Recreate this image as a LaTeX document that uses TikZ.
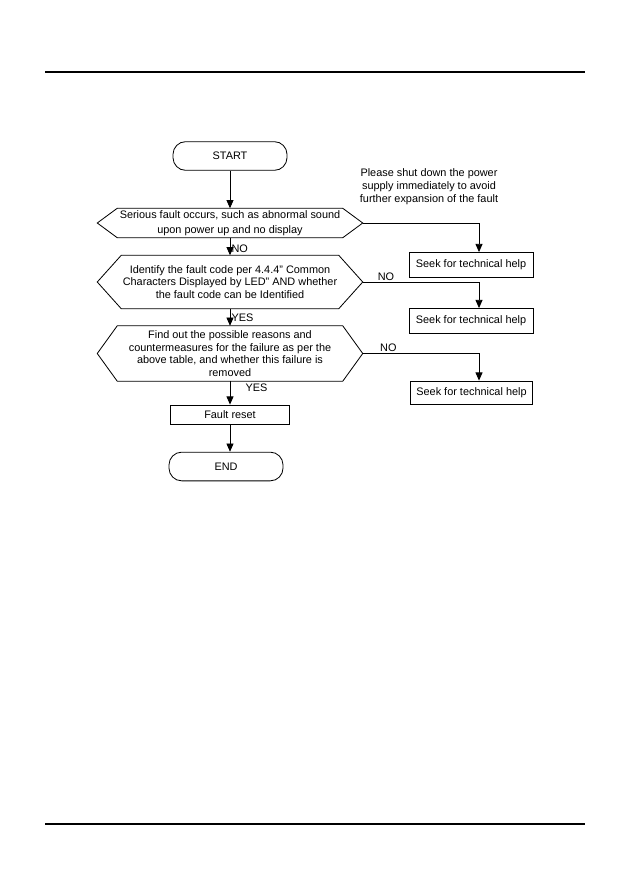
\documentclass[tikz,border=0pt]{standalone}
\usepackage{fontspec}
\setmainfont{Liberation Sans}
\usetikzlibrary{positioning,arrows.meta,calc}

\begin{document}
\begin{tikzpicture}[x=0.03cm, y=-0.03cm,
        font=\fontsize{9.3}{11}\selectfont,
        term/.style={draw, line width=0.7pt, rounded corners=0.38cm, minimum width=3.42cm, minimum height=0.86cm},
        box/.style={draw, line width=0.7pt, minimum height=0.75cm, inner sep=2pt},
        dec/.style={align=center, minimum width=7.95cm, inner sep=0pt, font=\fontsize{9.3}{10.8}\selectfont},
        hex/.style={line width=0.7pt},
        arr/.style={-{Triangle[length=7pt,width=6pt]}, line width=0.7pt},
        lbl/.style={inner sep=1pt}
    ]
        \useasboundingbox (0,0) rectangle (626,893);

        % --- page rules ---
        \draw[line width=0.9pt] (45,72) -- (585,72);
        \draw[line width=0.9pt] (45,824) -- (585,824);

        % main column
        \node[term] (start) at (230,156) {START};
        \node[dec, minimum height=0.87cm] (dec1) at (230,223) {Serious fault occurs, such as abnormal sound\\[2.5pt]upon power up and no display};
        \node[dec, minimum height=1.59cm] (dec2) at (230,282) {Identify the fault code per 4.4.4" Common\\Characters Displayed by LED" AND whether\\the fault code can be Identified};
        \node[dec, minimum height=1.65cm] (dec3) at (230,353.5) {Find out the possible reasons and\\countermeasures for the failure as per the\\above table, and whether this failure is\\removed};
        \node[box, minimum width=3.57cm, minimum height=0.57cm] (reset) at (230,414.5) {Fault reset};
        \node[term] (end) at (226,466.5) {END};

        % hexagon outlines
        \foreach \d/\c in {dec1/20, dec2/24, dec3/20}
            \draw[hex] (\d.west) -- ($(\d.north west)+(\c,0)$) -- ($(\d.north east)-(\c,0)$) -- (\d.east)
                -- ($(\d.south east)-(\c,0)$) -- ($(\d.south west)+(\c,0)$) -- cycle;

        % right column
        \node[align=center] (note) at (429,187) {Please shut down the power\\supply immediately to avoid\\further expansion of the fault};
        \node[box, minimum width=3.72cm] (help1) at (471,265) {Seek for technical help};
        \node[box, minimum width=3.72cm] (help2) at (471,321) {Seek for technical help};
        \node[box, minimum width=3.66cm, minimum height=0.69cm] (help3) at (471.5,392.5) {Seek for technical help};
        \coordinate (drop) at (479,0);

        % connectors
        \draw[arr] (start) -- (dec1);
        \draw[arr] (dec1) -- node[lbl, pos=0.6, right] (no1) {NO} (dec2);
        \draw[arr] (dec2) -- node[lbl, pos=0.55, right] (yes1) {YES} (dec3);
        \draw[arr] (dec3) -- node[lbl, pos=0.3, right=0.42cm] (yes2) {YES} (reset);
        \draw[arr] (reset) -- (reset |- end.north);

        \draw[arr] (dec1.east) -| (drop |- help1.north);
        \draw[arr] (dec2.east) -| node[lbl, pos=0.1, above] (no2) {NO} (drop |- help2.north);
        \draw[arr] (dec3.east) -| node[lbl, pos=0.11, above] (no3) {NO} (drop |- help3.north);
    \end{tikzpicture}
\end{document}
